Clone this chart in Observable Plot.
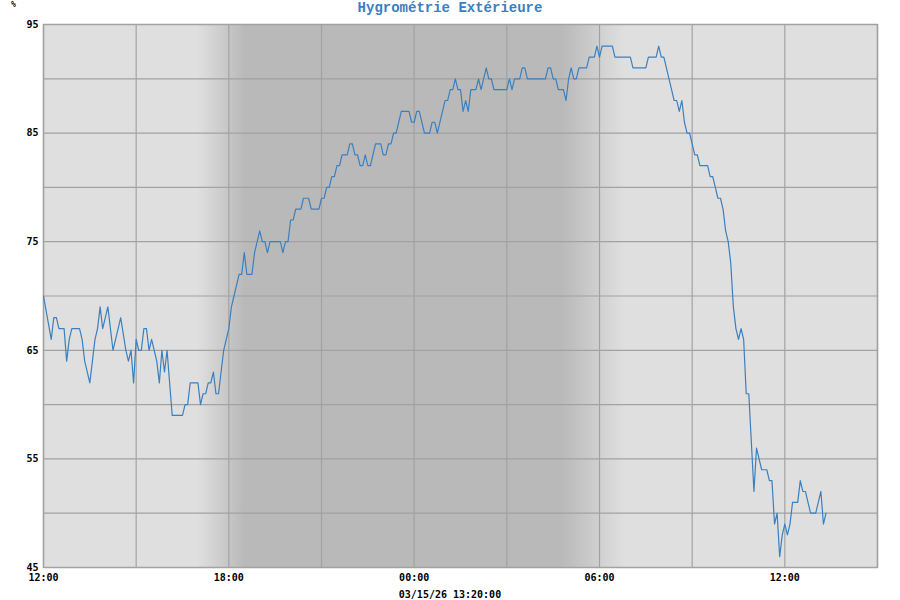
<!DOCTYPE html>
<html>
<head>
<meta charset="utf-8">
<script src="https://cdn.jsdelivr.net/npm/d3@7"></script>
<script src="https://cdn.jsdelivr.net/npm/@observablehq/plot@0.6"></script>
<style>
  html, body { margin: 0; padding: 0; background: #ffffff; }
  #wrap { position: relative; width: 900px; height: 600px; overflow: hidden; }
  #title { position: absolute; left: 0; top: 1px; width: 900px; text-align: center;
           font: bold 14px "Liberation Mono", "Courier New", monospace; color: #3a80c0; line-height: 14px; }
  #unit { position: absolute; left: 11px; top: 0px; font: bold 8px "DejaVu Sans Mono", monospace; color: #000; line-height: 10px; }
  #chart { position: absolute; left: 0; top: 0; }
  #caption { position: absolute; left: 0; top: 590px; width: 900px; text-align: center;
             font: bold 10px "DejaVu Sans Mono", monospace; color: #000; line-height: 10px; }
</style>
</head>
<body>
<div id="wrap">
  <div id="chart"></div>
  <div id="title">Hygrométrie Extérieure</div>
  <div id="unit">%</div>
  <div id="caption">03/15/26 13:20:00</div>
</div>
<script>
// ---- data (minutes after 03/14/26 12:00, relative humidity %) ----
const minutes = [
  0, 15, 20, 25, 30, 40, 45, 50, 55, 70, 75, 80, 90, 100, 105, 110, 115, 125, 135, 150,
  160, 165, 170, 175, 180, 185, 190, 195, 200, 205, 210, 220, 225, 230, 235, 240, 250, 270, 275, 280,
  285, 300, 305, 310, 315, 320, 325, 330, 335, 340, 350, 360, 365, 370, 380, 385, 390, 395, 405, 410,
  420, 425, 430, 435, 440, 460, 465, 470, 475, 480, 485, 490, 500, 505, 515, 520, 535, 540, 545, 550,
  555, 560, 565, 570, 575, 580, 590, 595, 600, 605, 610, 615, 620, 625, 630, 635, 645, 655, 660, 665,
  670, 675, 680, 685, 690, 695, 710, 715, 720, 725, 730, 740, 750, 755, 760, 765, 780, 785, 790, 795,
  800, 805, 810, 815, 820, 825, 830, 840, 845, 850, 860, 865, 870, 875, 900, 905, 910, 915, 925, 930,
  935, 940, 975, 980, 985, 990, 995, 1000, 1010, 1015, 1020, 1025, 1030, 1035, 1040, 1055, 1060, 1070, 1075, 1080,
  1085, 1105, 1110, 1140, 1145, 1170, 1175, 1190, 1195, 1200, 1205, 1210, 1215, 1220, 1225, 1230, 1235, 1240, 1245, 1250,
  1255, 1260, 1265, 1270, 1275, 1290, 1295, 1300, 1305, 1310, 1315, 1320, 1325, 1330, 1335, 1340, 1345, 1350, 1355, 1360,
  1365, 1370, 1380, 1385, 1395, 1405, 1410, 1415, 1420, 1425, 1430, 1435, 1440, 1445, 1450, 1455, 1465, 1470, 1475, 1480,
  1485, 1490, 1500, 1505, 1510, 1515, 1520
];
const humidity = [
  70, 66, 68, 68, 67, 67, 64, 66, 67, 67, 66, 64, 62, 66, 67, 69, 67, 69, 65, 68,
  65, 64, 65, 62, 66, 65, 65, 67, 67, 65, 66, 64, 62, 65, 63, 65, 59, 59, 60, 60,
  62, 62, 60, 61, 61, 62, 62, 63, 61, 61, 65, 67, 69, 70, 72, 72, 74, 72, 72, 74,
  76, 75, 75, 74, 75, 75, 74, 75, 75, 77, 77, 78, 78, 79, 79, 78, 78, 79, 79, 80,
  80, 81, 81, 82, 82, 83, 83, 84, 84, 83, 83, 82, 82, 83, 82, 82, 84, 84, 83, 83,
  84, 84, 85, 85, 86, 87, 87, 86, 86, 87, 87, 85, 85, 86, 86, 85, 88, 88, 89, 89,
  90, 89, 89, 87, 88, 87, 89, 89, 90, 89, 91, 90, 90, 89, 89, 90, 89, 90, 90, 91,
  91, 90, 90, 91, 91, 90, 90, 89, 89, 88, 90, 91, 90, 90, 91, 91, 92, 92, 93, 92,
  93, 93, 92, 92, 91, 91, 92, 92, 93, 92, 92, 91, 90, 89, 88, 88, 87, 88, 86, 85,
  85, 84, 83, 83, 82, 82, 81, 81, 80, 79, 79, 78, 76, 75, 73, 69, 67, 66, 67, 66,
  61, 61, 52, 56, 54, 54, 53, 53, 49, 50, 46, 48, 49, 48, 49, 51, 51, 53, 52, 52,
  51, 50, 50, 51, 52, 49, 50
];
// axis / grid values
const yTickValues = [45, 55, 65, 75, 85, 95];
const yGridValues = [45, 50, 55, 60, 65, 70, 75, 80, 85, 90, 95];
const xTickLabels = ["12:00", "18:00", "00:00", "06:00", "12:00"];
const xTickMinutes = [0, 360, 720, 1080, 1440];
const xGridMinutes = [0, 180, 360, 540, 720, 900, 1080, 1260, 1440, 1620];
const domainMinutes = [0, 1620];
// twilight (minutes after start): dusk fade start/end, dawn fade start/end
const duskMinutes = [300, 392];
const dawnMinutes = [1008, 1128];

const start = Date.UTC(2026, 2, 14, 12, 0);
const toDate = m => new Date(start + m * 60000);
const data = minutes.map((m, i) => ({time: toDate(m), value: humidity[i]}));
const xTicks = xTickMinutes.map(toDate);
const labelOf = new Map(xTicks.map((d, i) => [+d, xTickLabels[i]]));

const dayColor = "#dfdfdf";
const nightColor = "#b9b9b9";
const gridColor = "#a2a2a2";

const plot = Plot.plot({
  width: 900,
  height: 600,
  marginTop: 24,
  marginLeft: 43,
  marginRight: 23,
  marginBottom: 33,
  style: {fontFamily: "DejaVu Sans Mono", fontSize: "10px", fontWeight: "bold", background: "transparent", color: "#000"},
  x: {type: "utc", domain: domainMinutes.map(toDate), ticks: xTicks, tickFormat: d => labelOf.get(+d), tickSize: 0, tickPadding: 6, label: null},
  y: {domain: [45, 95], ticks: yTickValues, tickSize: 0, tickPadding: 5, label: null},
  marks: [
    Plot.rect([0], {x1: () => toDate(domainMinutes[0]), x2: () => toDate(domainMinutes[1]), y1: () => 45, y2: () => 95, fill: "url(#nightShade)"}),
    Plot.ruleX(xGridMinutes.map(toDate), {stroke: gridColor, strokeWidth: 1.2}),
    Plot.ruleY(yGridValues, {stroke: gridColor, strokeWidth: 1.2}),
    Plot.frame({stroke: gridColor, strokeWidth: 1.5}),
    Plot.line(data, {x: "time", y: "value", stroke: "#3a80c0", strokeWidth: 1.2})
  ]
});

// gradient for night shading, positioned with the x scale
const xs = plot.scale("x");
const px = m => xs.apply(toDate(m));
const svg = d3.select(plot.tagName.toLowerCase() === "svg" ? plot : plot.querySelector("svg"));
const grad = svg.insert("defs", ":first-child").append("linearGradient")
  .attr("id", "nightShade").attr("gradientUnits", "userSpaceOnUse")
  .attr("x1", px(domainMinutes[0])).attr("x2", px(domainMinutes[1])).attr("y1", 0).attr("y2", 0);
const span = px(domainMinutes[1]) - px(domainMinutes[0]);
const off = m => (px(m) - px(domainMinutes[0])) / span;
[[domainMinutes[0], dayColor], [duskMinutes[0], dayColor], [duskMinutes[1], nightColor],
 [dawnMinutes[0], nightColor], [dawnMinutes[1], dayColor], [domainMinutes[1], dayColor]]
  .forEach(([m, c]) => grad.append("stop").attr("offset", off(m)).attr("stop-color", c));

document.getElementById("chart").appendChild(plot);
</script>
</body>
</html>
